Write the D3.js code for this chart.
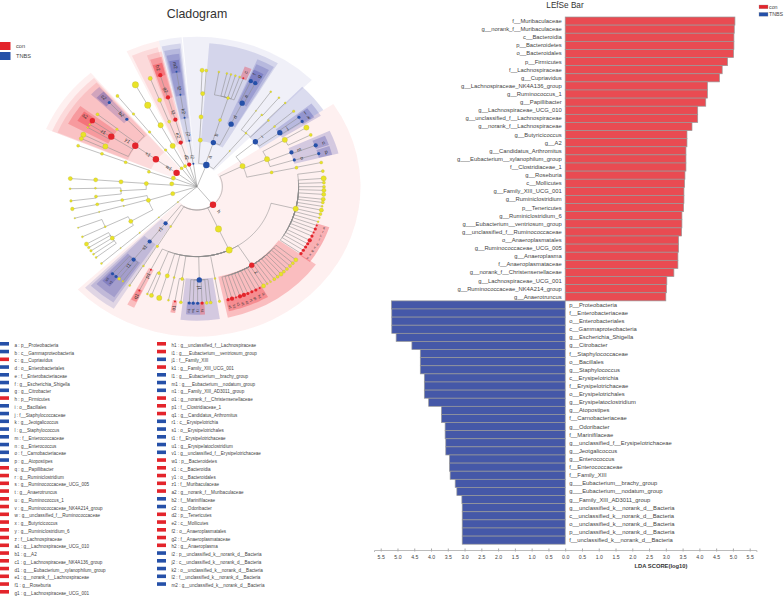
<!DOCTYPE html>
<html><head><meta charset="utf-8">
<script src="https://cdn.jsdelivr.net/npm/d3@7"></script>
<style>html,body{margin:0;padding:0;background:#fff}svg{display:block}text{font-family:"Liberation Sans",Arial,sans-serif}</style>
</head><body><svg id="c" width="784" height="596"></svg>
<script>
const conLabels=["f__Muribaculaceae","g__norank_f__Muribaculaceae","c__Bacteroidia","p__Bacteroidetes","o__Bacteroidales","p__Firmicutes","f__Lachnospiraceae","g__Cupriavidus","g__Lachnospiraceae_NK4A136_group","g__Ruminococcus_1","g__Papillibacter","g__Lachnospiraceae_UCG_010","g__unclassified_f__Lachnospiraceae","g__norank_f__Lachnospiraceae","g__Butyricicoccus","g__A2","g__Candidatus_Arthromitus","g___Eubacterium__xylanophilum_group","f__Clostridiaceae_1","g__Roseburia","c__Mollicutes","g__Family_XIII_UCG_001","g__Ruminiclostridium","p__Tenericutes","g__Ruminiclostridium_6","g___Eubacterium__ventriosum_group","g__unclassified_f__Ruminococcaceae","o__Anaeroplasmatales","g__Ruminococcaceae_UCG_005","g__Anaeroplasma","f__Anaeroplasmataceae","g__norank_f__Christensenellaceae","g__Lachnospiraceae_UCG_001","g__Ruminococcaceae_NK4A214_group","g__Anaerotruncus"];
const conScores=[5.06,5.04,5.03,5.03,5.02,4.84,4.68,4.60,4.24,4.24,4.19,3.95,3.95,3.78,3.63,3.63,3.60,3.60,3.60,3.57,3.56,3.54,3.54,3.53,3.48,3.48,3.47,3.38,3.38,3.36,3.36,3.24,3.03,3.02,3.00];
const tnbsLabels=["p__Proteobacteria","f__Enterobacteriaceae","o__Enterobacteriales","c__Gammaproteobacteria","g__Escherichia_Shigella","g__Citrobacter","f__Staphylococcaceae","o__Bacillales","g__Staphylococcus","c__Erysipelotrichia","f__Erysipelotrichaceae","o__Erysipelotrichales","g__Erysipelatoclostridium","g__Atopostipes","f__Carnobacteriaceae","g__Odoribacter","f__Marinifilaceae","g__unclassified_f__Erysipelotrichaceae","g__Jeotgalicoccus","g__Enterococcus","f__Enterococcaceae","f__Family_XIII","g___Eubacterium__brachy_group","g___Eubacterium__nodatum_group","g__Family_XIII_AD3011_group","g__unclassified_k__norank_d__Bacteria","c__unclassified_k__norank_d__Bacteria","o__unclassified_k__norank_d__Bacteria","p__unclassified_k__norank_d__Bacteria","f__unclassified_k__norank_d__Bacteria"];
const tnbsScores=[5.18,5.17,5.17,5.17,5.04,4.57,4.32,4.32,4.32,4.20,4.20,4.20,4.07,3.69,3.69,3.58,3.58,3.56,3.56,3.45,3.45,3.43,3.28,3.23,3.08,3.07,3.07,3.07,3.07,3.07];
const axisTicks=d3.range(-11,12).map(d=>d/2);
const groups=["con","TNBS"];
const legendKeys=["a","b","c","d","e","f","g","h","i","j","k","l","m","n","o","p","q","r","s","t","u","v","w","x","y","z","a1","b1","c1","d1","e1","f1","g1","h1","i1","j1","k1","l1","m1","n1","o1","p1","q1","r1","s1","t1","u1","v1","w1","x1","y1","z1","a2","b2","c2","d2","e2","f2","g2","h2","i2","j2","k2","l2","m2"];
const legendTaxa=["p__Proteobacteria","c__Gammaproteobacteria","g__Cupriavidus","o__Enterobacteriales","f__Enterobacteriaceae","g__Escherichia_Shigella","g__Citrobacter","p__Firmicutes","o__Bacillales","f__Staphylococcaceae","g__Jeotgalicoccus","g__Staphylococcus","f__Enterococcaceae","g__Enterococcus","f__Carnobacteriaceae","g__Atopostipes","g__Papillibacter","g__Ruminiclostridium","g__Ruminococcaceae_UCG_005","g__Anaerotruncus","g__Ruminococcus_1","g__Ruminococcaceae_NK4A214_group","g__unclassified_f__Ruminococcaceae","g__Butyricicoccus","g__Ruminiclostridium_6","f__Lachnospiraceae","g__Lachnospiraceae_UCG_010","g__A2","g__Lachnospiraceae_NK4A136_group","g___Eubacterium__xylanophilum_group","g__norank_f__Lachnospiraceae","g__Roseburia","g__Lachnospiraceae_UCG_001","g__unclassified_f__Lachnospiraceae","g___Eubacterium__ventriosum_group","f__Family_XIII","g__Family_XIII_UCG_001","g___Eubacterium__brachy_group","g___Eubacterium__nodatum_group","g__Family_XIII_AD3011_group","g__norank_f__Christensenellaceae","f__Clostridiaceae_1","g__Candidatus_Arthromitus","c__Erysipelotrichia","o__Erysipelotrichales","f__Erysipelotrichaceae","g__Erysipelatoclostridium","g__unclassified_f__Erysipelotrichaceae","p__Bacteroidetes","c__Bacteroidia","o__Bacteroidales","f__Muribaculaceae","g__norank_f__Muribaculaceae","f__Marinifilaceae","g__Odoribacter","p__Tenericutes","c__Mollicutes","o__Anaeroplasmatales","f__Anaeroplasmataceae","g__Anaeroplasma","p__unclassified_k__norank_d__Bacteria","c__unclassified_k__norank_d__Bacteria","o__unclassified_k__norank_d__Bacteria","f__unclassified_k__norank_d__Bacteria","g__unclassified_k__norank_d__Bacteria"];
const legendTnbsKeys=["a","b","d","e","f","g","i","j","k","l","m","n","o","p","j1","l1","m1","n1","r1","s1","t1","u1","v1","b2","c2","i2","j2","k2","l2","m2"];
// clade tree: [id, parent, taxonomic rank, angle on the ring (deg), abundance class, enriched group]
const cladeNodes=[
["a","",1,21.6,5,"T"],["b","a",2,18.8,4,"T"],["d","b",3,26.6,4,"T"],["e","d",4,26.4,4,"T"],["f","e",5,25.1,3,"T"],["g","e",5,27.3,3,"T"],
["_p3","b",3,17.6,2],["_p4","_p3",4,17.8,2],["_l1","_p4",5,9.9,1],["_l2","_p4",5,13.6,1],["_l3","_p4",5,15.5,1],["_l4","_p4",5,17.6,1],["_l5","_p4",5,19.6,1],["c","_p4",5,21.4,1,"c"],
["_p5","a",2,3.7,3],["_p6","_p5",3,3,3],["_p7","_p6",4,3.2,3],["_l6","_p7",5,2.3,3],["_l7","_p7",5,4.2,2],
["_q2","a",2,40,.4],["_q3","_q2",3,40,1],["_q4","_q3",4,35.5,.4],["_l8","_q4",5,35.5,1],["_q5","_q3",4,39.6,1],["_l9","_q5",5,40.2,1],["_q6","_q3",4,44.7,1],["_l10","_q6",5,44,1],
["h","",1,141,5,"c"],["_b2","h",2,63.7,4],["i","_b2",3,50,4,"T"],["j","i",4,54.6,4,"T"],["k","j",5,55.9,2,"T"],["l","j",5,53.4,2,"T"],["_i4","i",4,49.8,1],["_l11","_i4",5,49.6,1.5],
["_b3","_b2",3,66.8,4],["_b4","_b3",4,59.8,4],["_l12","_b4",5,59.5,4],["_l13","_b4",5,63.6,2],["m","_b3",4,68.4,3,"T"],["n","m",5,69.2,3,"T"],["o","_b3",4,73.3,2,"T"],["p","o",5,73.5,2,"T"],
["_b5","_b2",3,78.2,2],["_b6","_b5",4,78.2,2],["_l14","_b6",5,78,2],
["_cl","h",2,155,5],["_c3","_cl",3,155,5],["_rum","_c3",4,103.7,4],
["_r1","_rum",5,82.3,2],["_r2","_rum",5,85.9,4],["_r3","_rum",5,88,2],["_r4","_rum",5,90,2],["_r5","_rum",5,91.8,3],["_r6","_rum",5,93.8,3],["_r7","_rum",5,96.2,3],["_r8","_rum",5,97.8,2],["_r9","_rum",5,99.7,1],["_r10","_rum",5,101.6,3],["_r11","_rum",5,103.6,2],["_r12","_rum",5,105.5,1],["_r13","_rum",5,107.5,1],
["q","_rum",5,109.4,1,"c"],["r","_rum",5,111.3,2,"c"],["s","_rum",5,113.2,1,"c"],["t","_rum",5,115.1,2,"c"],["u","_rum",5,117.4,3,"c"],["v","_rum",5,119.3,2,"c"],["w","_rum",5,121.2,2,"c"],["x","_rum",5,123.1,2,"c"],["y","_rum",5,125,2,"c"],
["z","_c3",4,147.4,4,"c"],
["_z1","z",5,128.9,3],["_z2","z",5,131,2],["_z3","z",5,132.9,2],["_z4","z",5,134.9,2],["_z5","z",5,136.8,2],["_z6","z",5,138.6,3],["_z7","z",5,140.6,2],["_z8","z",5,142.5,2],["_z9","z",5,144.6,1],["_z10","z",5,146.4,1],["_z11","z",5,148.4,3],
["i1","z",5,150.4,1,"c"],["h1","z",5,152.4,2,"c"],["g1","z",5,154.4,2,"c"],["f1","z",5,156.4,2,"c"],["e1","z",5,158.3,3,"c"],["d1","z",5,160.2,3,"c"],["c1","z",5,162.1,1,"c"],["b1","z",5,164,3,"c"],["a1","z",5,165.8,2,"c"],
["_s1","_c3",4,169.8,1],["_s2","_s1",5,169.8,1.5],
["j1","_c3",4,178.7,4,"T"],["_j1","j1",5,173.8,2],["_j2","j1",5,175.6,2],["k1","j1",5,177.7,2,"c"],["l1","j1",5,179.7,2,"T"],["m1","j1",5,181.7,2,"T"],["n1","j1",5,183.5,2,"T"],
["_t1","_c3",4,188.4,2],["_t2","_t1",5,187.3,2],["o1","_t1",5,190,1,"c"],
["_u1","_c3",4,193,1],["_u2","_u1",5,193,1],["_v1","_c3",4,197,3],["_v2","_v1",5,197.3,4],
["_w1","_c3",4,202,2],["_w2","_w1",5,201,3],["_w3","_w1",5,203,1],["p1","_c3",4,207,1,"c"],["q1","p1",5,207,1,"c"],
["_x1","h",2,211.2,1],["_x2","_x1",3,211.4,1.5],["_x3","_x2",4,211.8,1],["_x4","_x3",5,212,1],
["r1","h",2,218.2,3,"T"],["s1","r1",3,218.4,3,"T"],["t1","s1",4,218.6,3,"T"],["_y1","t1",5,215.7,1],["_y2","t1",5,217.8,2],["v1","t1",5,219.6,2,"T"],["u1","t1",5,221.7,2,"T"],
["_e0","",1,228.8,.4],["_e1","_e0",2,228.8,.4],["_e2","_e1",3,228.8,.4],["_e3","_e2",4,228.8,.4],["_e4","_e3",5,228.8,1],
["_f0","",1,252.6,3],["_f1","_f0",2,253,3],["_f2","_f1",3,240.3,3],["_f3","_f2",4,236.5,3],["_f4","_f3",5,232.6,1],["_f5","_f3",5,234.6,1],["_f6","_f3",5,236.6,1.5],["_f7","_f3",5,238.5,1.5],["_f8","_f3",5,240.5,3],
["_f9","_f2",4,244.6,1],["_f10","_f9",5,244.5,1],["_f11","_f9",5,249.4,.5],
["_g1","_f1",3,254,.4],["_g2","_g1",4,254.3,.4],["_g3","_g2",5,254.3,.6],["_g4","_f1",3,259,2],["_g5","_g4",4,259.1,2],["_g6","_g5",5,259,2.5],
["_h0","",1,277,3],["_h1","_h0",2,273.8,3],["_h2","_h1",3,266.7,1],["_h3","_h2",4,264,2],["_h4","_h3",5,263,1.5],["_h5","_h2",4,269,1],["_h6","_h5",5,269,1],["_h7","_h1",3,274,3],["_h8","_h7",4,274.2,3],["_h9","_h8",5,274,3],
["_k0","",1,291.6,3],["_k1","_k0",2,288.7,2],["_k2","_k1",3,290.5,2],["_k3","_k2",4,290.7,2],["_k4","_k3",5,290.6,2],
["w1","",1,306.5,5,"c"],["x1","w1",2,306,5,"c"],["y1","x1",3,305.9,5,"c"],["z1","y1",4,302.5,5,"c"],["a2","z1",5,304.5,4,"c"],["_m1","z1",5,302.3,1],["_m2","z1",5,300.6,1],
["b2","y1",4,316.3,2,"T"],["c2","b2",5,316.3,2,"T"],["_m3","y1",4,308,1.5],["_m4","_m3",5,308.4,2],["_m5","y1",4,295.6,4],["_m6","_m5",5,296.5,4],["_m7","_m5",5,294.4,3],
["_n0","",1,322.6,2],["_n1","_n0",2,321.8,1.5],["_n2","_n1",3,321.5,1.5],["_n3","_n2",4,321.3,1.5],["_n4","_n3",5,321.2,2],
["_o0","",1,332,2],["_o1","_o0",2,331.4,4],["_o2","_o1",3,331.5,4],["_o3","_o2",4,331,5],["_o4","_o3",5,331,5],
["d2","",1,342.1,3,"c"],["e2","d2",2,341.3,3,"c"],["f2","e2",3,343.5,3,"c"],["g2","f2",4,343.4,3,"c"],["h2","g2",5,343.2,3,"c"],["_v3","e2",3,338.6,2],["_v4","_v3",4,338.4,3],["_v5","_v4",5,338.4,3],
["i2","",1,351.8,1,"T"],["j2","i2",2,351.3,1,"T"],["k2","j2",3,350.6,1,"T"],["l2","k2",4,350.6,1,"T"],["m2","l2",5,350.7,1,"T"]];
// angular extent of each enriched clade on the ring: [id, from (deg), to (deg)]
const cladeSpans=[["a",-5,44.6],["b",4.5,31],["c",20,23],["d",23.5,30.5],["e",24,29.5],["f",24,26.2],["g",26.2,28.5],
["h",56.5,226.8],["i",44,56.5],["j",51.6,58],["k",54.7,57.2],["l",52.2,54.7],["m",65.3,71.3],["n",66.5,71],["o",71.3,75.6],["p",71.5,75.5],
["q",108.5,110.4],["r",110.4,112.3],["s",112.3,114.2],["t",114.2,116.2],["u",116.2,118.4],["v",118.4,120.3],["w",120.3,122.2],["x",122.2,124.1],["y",124.1,126],
["z",125.5,167.8],["a1",164.9,166.8],["b1",163,164.9],["c1",161.1,163],["d1",159.2,161.1],["e1",157.3,159.2],["f1",155.4,157.3],["g1",153.4,155.4],["h1",151.4,153.4],["i1",149.4,151.4],
["j1",171,186.5],["k1",176.7,178.7],["l1",178.7,180.7],["m1",180.7,182.6],["n1",182.6,184.5],["o1",189,191],["p1",205.5,208.5],["q1",205.8,208.2],
["r1",212,225.5],["s1",213.5,224.5],["t1",214.5,223.5],["u1",220.7,222.7],["v1",218.7,220.7],
["w1",292.6,319.5],["x1",292.6,319],["y1",293,318.5],["z1",298,307],["a2",301,306],["b2",313.5,318],["c2",314,318],
["d2",334.5,346.5],["e2",335.5,345.5],["f2",340.7,346.5],["g2",341.3,346],["h2",341.5,345.5],
["i2",346.5,354.6],["j2",347,354],["k2",347.5,353.5],["l2",348,353],["m2",348.5,352.5]];

const svg=d3.select("#c");
const colour={con:"#e3242b",TNBS:"#2550a8"};
const barColour={con:"#e94b52",TNBS:"#4558a8"};
const groupOf={c:"con",T:"TNBS"};

/* ---------- LDA bars ---------- */
const x=d3.scaleLinear([-5.7,5.7],[374,756.4]);
const allLabels=conLabels.concat(tnbsLabels);
const y=d3.scaleBand(allLabels.map((d,i)=>i),[17,544.2]);
const bars=svg.append("g");
bars.selectAll("rect.c").data(conScores).join("rect").attr("class","c")
  .attr("x",x(0)).attr("y",(d,i)=>y(i)).attr("width",d=>x(d)-x(0)).attr("height",y.bandwidth())
  .attr("fill",barColour.con).attr("stroke","#999").attr("stroke-width",.7);
bars.selectAll("rect.t").data(tnbsScores).join("rect").attr("class","t")
  .attr("x",d=>x(-d)).attr("y",(d,i)=>y(i+conScores.length)).attr("width",d=>x(0)-x(-d)).attr("height",y.bandwidth())
  .attr("fill",barColour.TNBS).attr("stroke","#999").attr("stroke-width",.7);
bars.selectAll("text.c").data(conLabels).join("text").attr("class","c")
  .attr("x",x(0)-3.5).attr("y",(d,i)=>y(i)+y.bandwidth()/2+2).attr("text-anchor","end")
  .attr("font-size",5.85).attr("fill","#444").text(d=>d);
bars.selectAll("text.t").data(tnbsLabels).join("text").attr("class","t")
  .attr("x",x(0)+4).attr("y",(d,i)=>y(i+conLabels.length)+y.bandwidth()/2+2)
  .attr("font-size",5.85).attr("fill","#444").text(d=>d);
const ax=svg.append("g").attr("transform","translate(0,550)")
  .call(d3.axisBottom(x).tickValues(axisTicks).tickFormat(d=>Math.abs(d).toFixed(1)).tickSize(2).tickPadding(2.5));
ax.selectAll("text").attr("font-size",5.2).attr("fill","#444").attr("font-family",'"Liberation Sans",Arial,sans-serif').attr("dy",0).attr("y",9);
ax.selectAll("line").attr("stroke","#aaa").attr("y1",-1.5).attr("y2",1.5);
ax.select(".domain").attr("stroke","#bbb");
svg.append("text").attr("x",661).attr("y",568).attr("text-anchor","middle").attr("font-size",5.8).attr("font-weight","bold").attr("fill","#333").text("LDA SCORE(log10)");
svg.append("text").attr("x",565).attr("y",7.5).attr("text-anchor","middle").attr("font-size",8.2).attr("fill","#333").text("LEfSe Bar");
groups.forEach((g,i)=>{
  svg.append("rect").attr("x",759).attr("y",5+i*7.4).attr("width",9).attr("height",3.8).attr("fill",colour[g]).attr("stroke","#999").attr("stroke-width",.3);
  svg.append("text").attr("x",769).attr("y",9+i*7.4).attr("font-size",5.3).attr("fill","#444").text(g);
});

/* ---------- cladogram ---------- */
const cx=197, cy=186.7, stretch=1.09;
const R=d3.scaleLinear([0,5],[0,116.5]);
const rad=d3.scaleLinear([0,360],[0,2*Math.PI]);
const dot=d3.scaleLinear([1,5],[1,3.2]);
const ringOuter=d3.scaleOrdinal([1,2,3,4,5],[150,144,139,134,128]);
const ringAlpha={con:d3.scaleOrdinal([1,2,3,4,5],[.065,.1,.12,.24,.3]),TNBS:d3.scaleOrdinal([1,2,3,4,5],[.07,.14,.17,.2,.26])};
const ringColour={con:"#ee1c25",TNBS:"#2b2f9e"};
const nodes=new Map(cladeNodes.map(r=>[r[0],{id:r[0],parent:r[1],rank:r[2],angle:r[3],size:r[4],group:groupOf[r[5]]}]));
const spread=(n,extra=0)=>{const r=R(n.rank)+extra;return [cx+stretch*r*Math.sin(rad(n.angle)),cy-r*Math.cos(rad(n.angle))];};
const clado=svg.append("g");
const warped=clado.append("g").attr("transform",`translate(${cx},${cy}) scale(${stretch},1)`);
// shaded clade sectors, outer ranks first
const arc=d3.arc();
const spans=cladeSpans.map(s=>({n:nodes.get(s[0]),from:s[1],to:s[2]})).sort((p,q)=>p.n.rank-q.n.rank);
warped.selectAll("path.w").data(spans).join("path").attr("class","w")
  .attr("d",s=>arc({innerRadius:R(s.n.rank)-1,outerRadius:ringOuter(s.n.rank),startAngle:rad(s.from),endAngle:rad(s.to)}))
  .attr("fill",s=>ringColour[s.n.group]).attr("fill-opacity",s=>ringAlpha[s.n.group](s.n.rank));
// branches: radial from the child to the parent's ring, then along the ring
const branch=d3.lineRadial().angle(d=>rad(d[0])).radius(d=>R(d[1]));
warped.selectAll("path.e").data([...nodes.values()]).join("path").attr("class","e")
  .attr("d",n=>{
    const p=nodes.get(n.parent), pr=p?p.rank:0, pa=p?p.angle:n.angle;
    const step=pa>n.angle?1:-1, pts=[[n.angle,n.rank],[n.angle,pr]];
    for(let a=n.angle;step*(pa-a)>0;a+=step)pts.push([a,pr]);
    pts.push([pa,pr]);
    return branch(pts);
  }).attr("fill","none").attr("stroke","#8c8c8c").attr("stroke-width",.55).attr("vector-effect","non-scaling-stroke");
clado.selectAll("circle").data([...nodes.values()]).join("circle")
  .attr("cx",n=>spread(n)[0]).attr("cy",n=>spread(n)[1]).attr("r",n=>dot(n.size))
  .attr("fill",n=>n.group?colour[n.group]:"#e9e327").attr("stroke",n=>n.group?"none":"#a9a54a").attr("stroke-width",.25);
// clade labels run along the radius
const labelled=[...nodes.values()].filter(n=>n.group);
const crowded=new Set(["q","r","s","t","u","v","w","x","y","a1","b1","c1","d1","e1","f1","g1","h1","i1","k1","l1","m1","n1","u1","v1"]);
clado.selectAll("text.lab").data(labelled).join("text").attr("class","lab")
  .attr("transform",n=>{const [px,py]=spread(n,dot(n.size)+(crowded.has(n.id)?6:5.5));
    const rot=(n.angle%360)<180?n.angle-90:n.angle-270;
    return `translate(${px},${py}) rotate(${rot})`;})
  .attr("text-anchor","middle").attr("dy","0.35em").attr("font-size",n=>crowded.has(n.id)?3.4:5).attr("fill","#333").text(n=>n.id);
svg.append("text").attr("x",197).attr("y",18).attr("text-anchor","middle").attr("font-size",12.4).attr("fill","#333").text("Cladogram");
groups.forEach((g,i)=>{
  svg.append("rect").attr("x",0).attr("y",42+i*10).attr("width",10.5).attr("height",8).attr("fill",colour[g]);
  svg.append("text").attr("x",16).attr("y",48.3+i*9.8).attr("font-size",5.6).attr("fill","#444").text(g);
});

/* ---------- key ---------- */
const splitAt=33;
const key=svg.append("g");
const rowY=d3.scaleLinear([0,1],[345,352.75]);
const keyRow=key.selectAll("g").data(legendKeys).join("g")
  .attr("transform",(d,i)=>`translate(${i<splitAt?0:157},${rowY(i<splitAt?i:i-splitAt)})`);
keyRow.append("rect").attr("y",-3).attr("width",9).attr("height",3.6).attr("fill",d=>colour[legendTnbsKeys.includes(d)?"TNBS":"con"]);
keyRow.append("text").attr("x",14.5).attr("y",1.8).attr("font-size",4.6).attr("fill","#444").text((d,i)=>`${d} : ${legendTaxa[i]}`);
</script></body></html>
